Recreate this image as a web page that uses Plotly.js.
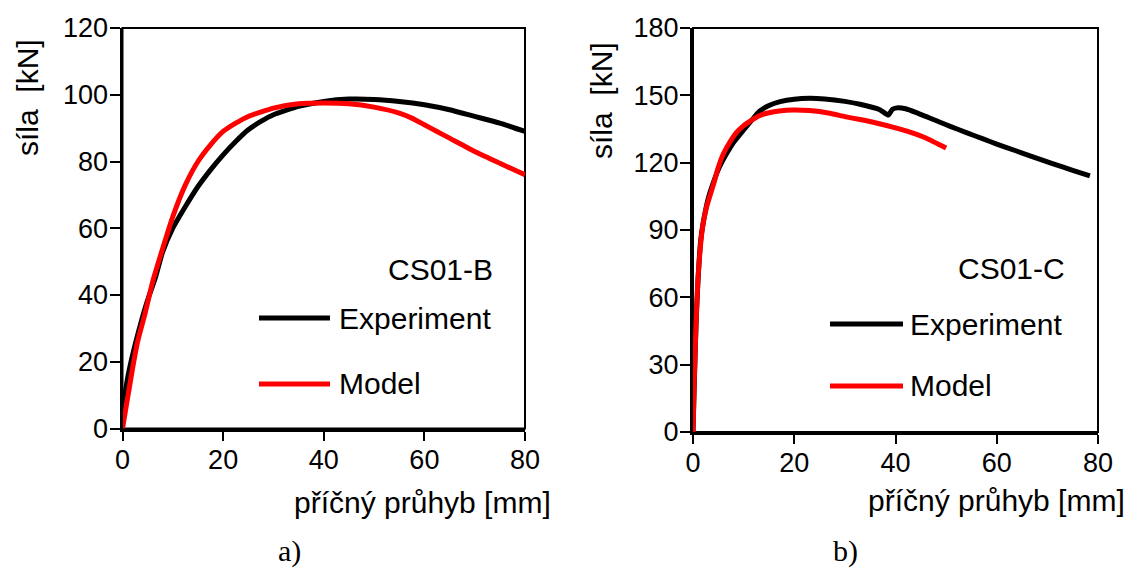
<!DOCTYPE html>
<html>
<head>
<meta charset="utf-8">
<script src="https://cdn.plot.ly/plotly-3.0.1.min.js"></script>
<style>html,body{margin:0;padding:0;background:#fff;}#chart{width:1130px;height:570px;}</style>
</head>
<body>
<div id="chart"></div>
<script>
// ---- Data: panel a) CS01-B ----
const xExpB = [0, 0.3, 1, 2, 3, 4, 5, 6.5, 8, 10, 12.5, 15, 17.5, 20, 22.5, 25, 27.5, 30, 35, 40, 45, 50, 55, 60, 65, 70, 75, 80];
const yExpB = [0, 8, 15, 22, 28, 33.5, 38.5, 45, 53, 60, 66.5, 72.5, 77.5, 82, 86, 89.5, 92, 94, 96.5, 98, 98.7, 98.6, 98, 97, 95.5, 93.5, 91.5, 89];
const xModB = [0, 1, 2, 3, 4.5, 6, 8, 10, 12.5, 15, 17.5, 20, 22.5, 25, 30, 35, 40, 45, 50, 55, 57.5, 60, 62.5, 65, 70, 75, 80];
const yModB = [0, 9, 18, 26, 34.6, 44, 54, 63.5, 73, 80, 85, 89, 91.5, 93.5, 96, 97.3, 97.5, 97.3, 96.3, 94.5, 93, 91, 89, 87, 83, 79.5, 76];
// ---- Data: panel b) CS01-C ----
const xExpC = [0, 0.3, 0.6, 1, 1.5, 2, 3, 4, 5, 6.5, 8, 10, 12, 13.2, 15, 17.2, 20, 23, 26, 30, 33, 36.9, 38.6, 39.4, 40.5, 42, 44, 48.8, 50.8, 54, 57.3, 60, 63.9, 67, 71, 75, 78.4];
const yExpC = [0, 25, 48, 68, 85, 93, 104, 111, 117, 123.5, 129, 134.6, 140, 143, 145.5, 147.2, 148.3, 148.7, 148.4, 147.3, 146, 143.6, 141.2, 143.8, 144.5, 144, 142.4, 138, 136.2, 133.4, 130.6, 128.3, 125.2, 122.7, 119.6, 116.6, 114.1];
const xModC = [0, 0.2, 0.6, 1.05, 1.9, 2.7, 4, 5, 6, 7.5, 8.6, 10, 11.3, 13, 14.6, 17, 19.8, 23, 27, 30, 33, 36, 40, 43, 46, 50];
const yModC = [0, 18.7, 48.4, 70.7, 91.5, 100.4, 110, 118, 124, 130, 133.5, 136.5, 138.5, 140.8, 142, 143, 143.5, 143.2, 142, 140.5, 139.2, 137.8, 135.5, 133.5, 131, 126.5];
// ---- Ticks / labels ----
const xTicks = [0, 20, 40, 60, 80];
const yTicksB = [0, 20, 40, 60, 80, 100, 120];
const yTicksC = [0, 30, 60, 90, 120, 150, 180];
const seriesNames = ['Experiment', 'Model'];
const panelNames = ['CS01-B', 'CS01-C'];
const xTitle = 'příčný průhyb [mm]';
const yTitle = 'síla \u00a0[kN]';
const panelLetters = ['a)', 'b)'];

const W = 1130, H = 570;
const px = v => v / W;
const py = v => 1 - v / H;
const FONT = 'Liberation Sans, Arial, sans-serif';
const BLACK = '#000000', RED = '#ff0000';

const lineStyle = c => ({color: c, width: 5, shape: 'spline', smoothing: 0.5});
const traces = [
  {x: xExpB, y: yExpB, xaxis: 'x', yaxis: 'y', mode: 'lines', line: lineStyle(BLACK), name: seriesNames[0]},
  {x: xModB, y: yModB, xaxis: 'x', yaxis: 'y', mode: 'lines', line: lineStyle(RED), name: seriesNames[1]},
  {x: xExpC, y: yExpC, xaxis: 'x2', yaxis: 'y2', mode: 'lines', line: lineStyle(BLACK), name: seriesNames[0]},
  {x: xModC, y: yModC, xaxis: 'x2', yaxis: 'y2', mode: 'lines', line: lineStyle(RED), name: seriesNames[1]}
];

function xax(domain, anchor) {
  return {domain: domain, anchor: anchor, range: [0, 80], tickvals: xTicks, ticktext: xTicks.map(String),
    showgrid: false, zeroline: false, showline: true, linewidth: 3, linecolor: BLACK, mirror: false,
    ticks: 'outside', ticklen: 9, tickwidth: 2, tickcolor: BLACK, ticklabelstandoff: -4,
    tickfont: {family: FONT, size: 27, color: BLACK}, fixedrange: true};
}
function yax(domain, anchor, range, ticks) {
  return {domain: domain, anchor: anchor, range: range, tickvals: ticks, ticktext: ticks.map(String),
    showgrid: false, zeroline: false, showline: true, linewidth: 3, linecolor: BLACK, mirror: false,
    ticks: 'outside', ticklen: 10, tickwidth: 2, tickcolor: BLACK, ticklabelstandoff: -4,
    tickfont: {family: FONT, size: 27, color: BLACK}, fixedrange: true};
}

const TF = {family: FONT, size: 30, color: BLACK};
const layout = {
  width: W, height: H,
  margin: {l: 0, r: 0, t: 0, b: 0},
  paper_bgcolor: '#fff', plot_bgcolor: '#fff',
  showlegend: false,
  xaxis: xax([px(122.5), px(525)], 'y'),
  yaxis: yax([py(428.5), py(28)], 'x', [0, 120], yTicksB),
  xaxis2: xax([px(693), px(1098)], 'y2'),
  yaxis2: yax([py(432), py(28)], 'x2', [0, 180], yTicksC),
  shapes: [
    {type: 'rect', xref: 'x domain', yref: 'y domain', x0: 0, x1: 1, y0: 0, y1: 1, line: {color: BLACK, width: 2}, layer: 'below'},
    {type: 'rect', xref: 'x2 domain', yref: 'y2 domain', x0: 0, x1: 1, y0: 0, y1: 1, line: {color: BLACK, width: 2}, layer: 'below'},
    // legend samples
    {type: 'line', xref: 'paper', yref: 'paper', x0: px(259), x1: px(330), y0: py(318), y1: py(318), line: {color: BLACK, width: 5}},
    {type: 'line', xref: 'paper', yref: 'paper', x0: px(259), x1: px(330), y0: py(384), y1: py(384), line: {color: RED, width: 5}},
    {type: 'line', xref: 'paper', yref: 'paper', x0: px(830), x1: px(903), y0: py(324), y1: py(324), line: {color: BLACK, width: 5}},
    {type: 'line', xref: 'paper', yref: 'paper', x0: px(830), x1: px(903), y0: py(386), y1: py(386), line: {color: RED, width: 5}}
  ],
  annotations: [
    {text: panelNames[0], xref: 'paper', yref: 'paper', x: px(495), y: py(269), xanchor: 'right', yanchor: 'middle', showarrow: false, font: TF},
    {text: seriesNames[0], xref: 'paper', yref: 'paper', x: px(337), y: py(318), xanchor: 'left', yanchor: 'middle', showarrow: false, font: TF},
    {text: seriesNames[1], xref: 'paper', yref: 'paper', x: px(337), y: py(383), xanchor: 'left', yanchor: 'middle', showarrow: false, font: TF},
    {text: panelNames[1], xref: 'paper', yref: 'paper', x: px(1067), y: py(268), xanchor: 'right', yanchor: 'middle', showarrow: false, font: TF},
    {text: seriesNames[0], xref: 'paper', yref: 'paper', x: px(908), y: py(324), xanchor: 'left', yanchor: 'middle', showarrow: false, font: TF},
    {text: seriesNames[1], xref: 'paper', yref: 'paper', x: px(908), y: py(385), xanchor: 'left', yanchor: 'middle', showarrow: false, font: TF},
    // axis titles
    {text: xTitle, xref: 'paper', yref: 'paper', x: px(553), y: py(502), xanchor: 'right', yanchor: 'middle', showarrow: false, font: TF},
    {text: xTitle, xref: 'paper', yref: 'paper', x: px(1127), y: py(500), xanchor: 'right', yanchor: 'middle', showarrow: false, font: TF},
    {text: yTitle, xref: 'paper', yref: 'paper', x: px(28), y: py(98), xanchor: 'center', yanchor: 'middle', textangle: -90, showarrow: false, font: TF},
    {text: yTitle, xref: 'paper', yref: 'paper', x: px(601), y: py(101), xanchor: 'center', yanchor: 'middle', textangle: -90, showarrow: false, font: TF},
    // panel letters
    {text: panelLetters[0], xref: 'paper', yref: 'paper', x: px(289), y: py(551), xanchor: 'center', yanchor: 'middle', showarrow: false, font: {family: 'Liberation Serif, Times New Roman, serif', size: 30, color: BLACK}},
    {text: panelLetters[1], xref: 'paper', yref: 'paper', x: px(845), y: py(551), xanchor: 'center', yanchor: 'middle', showarrow: false, font: {family: 'Liberation Serif, Times New Roman, serif', size: 30, color: BLACK}}
  ]
};

Plotly.newPlot('chart', traces, layout, {displayModeBar: false, staticPlot: true});
</script>
</body>
</html>
